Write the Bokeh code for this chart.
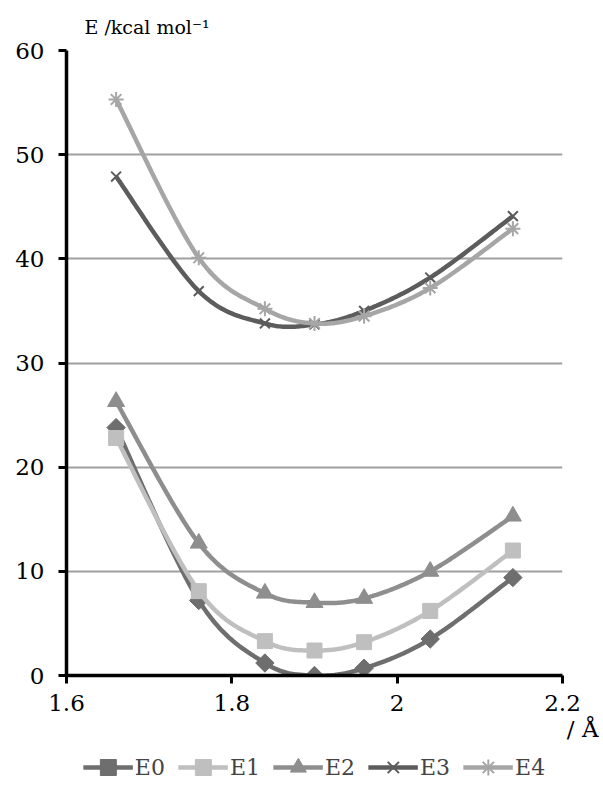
import numpy as np
from bokeh.plotting import figure
from bokeh.layouts import column
from bokeh.models import Range1d, FixedTicker, Legend, LegendItem, Title
from bokeh.embed import file_html
from bokeh.resources import INLINE

# ---- data ----
x_vals = [1.66, 1.76, 1.84, 1.90, 1.96, 2.04, 2.14]
E0 = [23.8, 7.2, 1.2, 0.0, 0.7, 3.5, 9.4]
E1 = [22.8, 8.1, 3.3, 2.4, 3.2, 6.2, 12.0]
E2 = [26.3, 12.7, 7.9, 7.0, 7.4, 10.0, 15.3]
E3 = [47.9, 36.9, 33.8, 33.7, 35.0, 38.2, 44.1]
E4 = [55.3, 40.1, 35.2, 33.8, 34.5, 37.2, 42.9]
series_names = ["E0", "E1", "E2", "E3", "E4"]
x_ticks = [1.6, 1.8, 2.0, 2.2]
x_tick_labels = ["1.6", "1.8", "2", "2.2"]
y_ticks = [0, 10, 20, 30, 40, 50, 60]
y_title = "E /kcal mol⁻¹"
x_title = "/ Å"

FONT = "DejaVu Serif"
colors = ["#6e6e6e", "#bfbfbf", "#8e8e8e", "#5c5c5c", "#a6a6a6"]
markers = ["square", "square", "triangle", "x", "asterisk"]
angles = [np.pi / 4, 0, 0, 0, 0]
msizes = [13, 15, 17, 14, 15]
mlw = [1, 1, 1, 2, 2]


def smooth(xs, ys, n=30):
    # Excel-like smoothed line: cubic Bezier with Catmull-Rom control points
    P = np.column_stack([xs, ys]).astype(float)
    m = len(P)
    out = []
    for i in range(m - 1):
        p0 = P[i - 1] if i > 0 else P[i]
        p1 = P[i]
        p2 = P[i + 1]
        p3 = P[i + 2] if i + 2 < m else P[i + 1]
        c1 = p1 + (p2 - p0) / 6.0
        c2 = p2 - (p3 - p1) / 6.0
        t = np.linspace(0, 1, n)[:, None]
        seg = ((1 - t) ** 3) * p1 + 3 * ((1 - t) ** 2) * t * c1 + 3 * (1 - t) * t ** 2 * c2 + t ** 3 * p2
        if i > 0:
            seg = seg[1:]
        out.append(seg)
    out = np.vstack(out)
    return out[:, 0], out[:, 1]


p = figure(frame_width=496, frame_height=625,
           min_border_left=66, min_border_right=37, min_border_top=50, min_border_bottom=0,
           x_range=Range1d(1.6, 2.2), y_range=Range1d(0, 60),
           output_backend="svg", toolbar_location=None)
p.outline_line_color = None
p.background_fill_color = "white"
p.border_fill_color = "white"

p.title.text = y_title
p.title.align = "left"
p.title.offset = 18
p.title.standoff = 26
p.title.text_font = FONT
p.title.text_font_size = "19px"
p.title.text_font_style = "normal"
p.title.text_color = "black"

p.xgrid.grid_line_color = None
p.ygrid.grid_line_color = "#a0a0a0"
p.ygrid.grid_line_width = 2
p.ygrid.ticker = FixedTicker(ticks=y_ticks)

p.xaxis.ticker = FixedTicker(ticks=x_ticks)
p.xaxis.major_label_overrides = {t: l for t, l in zip(x_ticks, x_tick_labels)}
p.yaxis.ticker = FixedTicker(ticks=y_ticks)
for ax in (p.xaxis, p.yaxis):
    ax.axis_line_color = "black"
    ax.axis_line_width = 3.5
    ax.major_tick_line_color = "black"
    ax.major_tick_line_width = 3
    ax.major_tick_out = 8
    ax.major_tick_in = 0
    ax.minor_tick_line_color = None
    ax.major_label_text_font = FONT
    ax.major_label_text_font_size = "23px"
    ax.major_label_text_color = "black"
p.xaxis.major_label_standoff = 11
p.yaxis.major_label_standoff = 14

xt = Title(text=x_title, align="right", offset=-36, standoff=0,
           text_font=FONT, text_font_size="23px", text_font_style="normal",
           text_color="black")
p.add_layout(xt, "below")

# legend strip as a second figure beneath the chart (its own copies of the
# series lie outside its ranges, so only the legend entries show)
lg = figure(width=599, height=52, min_border=0,
            x_range=Range1d(0, 1), y_range=Range1d(-100, -90),
            x_axis_location=None, y_axis_location=None,
            output_backend="svg", toolbar_location=None)
lg.grid.visible = False
lg.outline_line_color = None
lg.background_fill_color = "white"
lg.border_fill_color = "white"

items = []
all_series = [E0, E1, E2, E3, E4]
for name, ys, c, mk, ang, ms, lw in zip(series_names, all_series, colors, markers, angles, msizes, mlw):
    sx, sy = smooth(x_vals, ys)
    p.line(sx, sy, line_color=c, line_width=4.5)
    k1 = lg.line(x_vals, ys, line_color=c, line_width=4.5)
    if mk in ("x", "asterisk"):
        p.scatter(x_vals, ys, marker=mk, size=ms, line_color=c, line_width=lw)
        k2 = lg.scatter(x_vals, ys, marker=mk, size=ms, line_color=c, line_width=lw)
    else:
        p.scatter(x_vals, ys, marker=mk, size=ms, angle=ang, fill_color=c, line_color=c, line_width=lw)
        k2 = lg.scatter(x_vals, ys, marker=mk, size=ms, angle=ang, fill_color=c, line_color=c, line_width=lw)
    items.append(LegendItem(label=name, renderers=[k1, k2]))

legend = Legend(items=items, orientation="horizontal", location="center",
                label_text_font=FONT, label_text_font_size="22px",
                glyph_width=50, glyph_height=40, label_standoff=2, spacing=13,
                padding=0, margin=0, border_line_color=None,
                background_fill_alpha=0)
lg.add_layout(legend, "center")

layout = column(p, lg, spacing=0)
open("out.html", "w").write(file_html(layout, INLINE))
